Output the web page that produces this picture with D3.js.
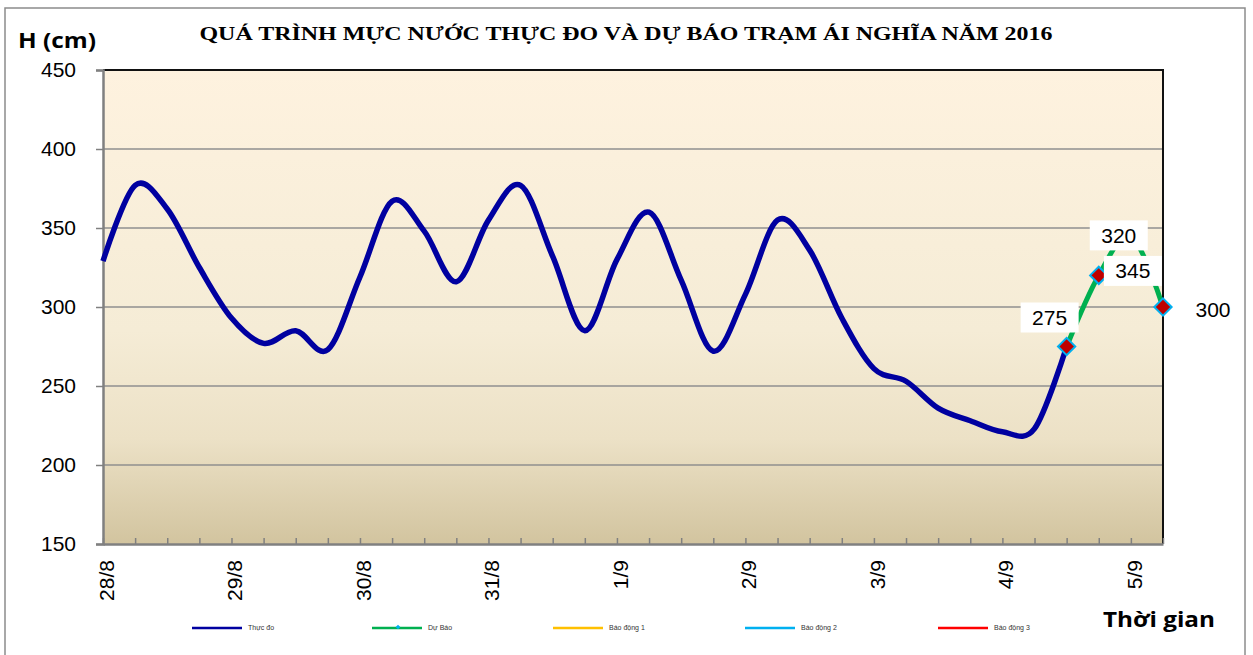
<!DOCTYPE html>
<html><head><meta charset="utf-8">
<script src="https://cdnjs.cloudflare.com/ajax/libs/d3/7.8.5/d3.min.js"></script>
<style>html,body{margin:0;padding:0;background:#fff;}svg{display:block;}</style>
</head><body>
<script>
// ---- data ----
const categories = ["28/8","","","","29/8","","","","30/8","","","","31/8","","","","1/9","","","","2/9","","","","3/9","","","","4/9","","","","5/9",""];
const measured = [329,377,362,325,293,277,285,273,319,367,348,316,355,377,332,285,330,360,317,272,308,355,336,293,261,253,236,228,221,223,275];
const forecastIdx = [30,31,32,33];
const forecast = [275,320,345,300];
const forecastLabels = ["275","320","345","300"];
const yTicks = [150,200,250,300,350,400,450];
const legendNames = ["Thực đo","Dự Báo","Báo động 1","Báo động 2","Báo động 3"];
const titleText = "QUÁ TRÌNH MỰC NƯỚC THỰC ĐO VÀ DỰ BÁO TRẠM ÁI NGHĨA NĂM 2016";

// ---- styles / layout ----
const W = 1253, H = 655;
const plot = {l:103, r:1163, t:70, b:544};
const labelOffsets = [[-17,-29],[20,-40],[2,35],[50,2]];
const legendColors = ["#0000A0","#00B050","#FFC000","#00B0F0","#FF0000"];
const legendX = [192,372,553,745,938];

const svg = d3.select("body").append("svg").attr("width",W).attr("height",H);
const defs = svg.append("defs");
const grad = defs.append("linearGradient").attr("id","bg").attr("x1",0).attr("y1",0).attr("x2",0).attr("y2",1);
[[0,"#FEF2DF"],[0.55,"#F5ECD6"],[0.78,"#ECE1C6"],[1,"#D2C49F"]].forEach(s=>grad.append("stop").attr("offset",s[0]).attr("stop-color",s[1]));

// outer border
svg.append("rect").attr("x",5).attr("y",8).attr("width",1240).attr("height",660).attr("fill","none").attr("stroke","#8c8c8c").attr("stroke-width",1.5);

const x = d3.scaleLinear().domain([0,categories.length-1]).range([plot.l,plot.r]);
const y = d3.scaleLinear().domain([150,450]).range([plot.b,plot.t]);

// plot background
svg.append("rect").attr("x",plot.l).attr("y",plot.t).attr("width",plot.r-plot.l).attr("height",plot.b-plot.t).attr("fill","url(#bg)");

// gridlines
svg.append("g").selectAll("line").data(yTicks.filter(v=>v>150&&v<450)).join("line")
  .attr("x1",plot.l).attr("x2",plot.r).attr("y1",d=>y(d)).attr("y2",d=>y(d))
  .attr("stroke","#8f8f8f").attr("stroke-width",1.5);

// top/right border
svg.append("path").attr("d",`M${plot.l},${plot.t}H${plot.r}V${plot.b}`).attr("fill","none").attr("stroke","#111").attr("stroke-width",2);

// y axis
const yAxis = svg.append("g").attr("transform",`translate(${plot.l},0)`)
  .call(d3.axisLeft(y).tickValues(yTicks).tickSize(7).tickPadding(20));
yAxis.select(".domain").attr("stroke","#808080").attr("stroke-width",2.5);
yAxis.selectAll(".tick line").attr("stroke","#808080").attr("stroke-width",1.5);
yAxis.selectAll("text").attr("font-family","Liberation Sans, Arial, sans-serif").attr("font-size",21).attr("fill","#000");

// x axis
const xAxis = svg.append("g").attr("transform",`translate(0,${plot.b})`)
  .call(d3.axisBottom(x).tickValues(d3.range(categories.length)).tickSize(-6).tickSizeOuter(0).tickFormat(i=>categories[i]));
xAxis.select(".domain").attr("stroke","#808080").attr("stroke-width",2.5);
xAxis.selectAll(".tick line").attr("stroke","#808080").attr("stroke-width",1.5);
xAxis.selectAll("text").attr("font-family","Liberation Sans, Arial, sans-serif").attr("font-size",21).attr("fill","#000")
  .attr("transform","rotate(-90)").attr("text-anchor","end").attr("x",-16).attr("y",0).attr("dy","0.5em");

// lines
const curve = d3.curveCatmullRom.alpha(0);
const fData = forecastIdx.map((i,k)=>({i, v:forecast[k], lab:forecastLabels[k], off:labelOffsets[k]}));
svg.append("path").datum(fData)
  .attr("d",d3.line().x(d=>x(d.i)).y(d=>y(d.v)).curve(curve))
  .attr("fill","none").attr("stroke","#00B050").attr("stroke-width",5).attr("stroke-linejoin","round");
svg.append("path").datum(measured)
  .attr("d",d3.line().x((d,i)=>x(i)).y(d=>y(d)).curve(curve))
  .attr("fill","none").attr("stroke","#0000A0").attr("stroke-width",5.5).attr("stroke-linejoin","round");

// markers
const diamond = d3.symbol().type(d3.symbolDiamond2).size(190);
svg.append("g").selectAll("path").data(fData).join("path")
  .attr("d",diamond).attr("transform",d=>`translate(${x(d.i)},${y(d.v)})`)
  .attr("fill","#C00000").attr("stroke","#00B0F0").attr("stroke-width",2);

// data labels
const lg = svg.append("g").selectAll("g").data(fData).join("g")
  .attr("transform",d=>`translate(${x(d.i)+d.off[0]},${y(d.v)+d.off[1]})`);
lg.append("rect").attr("x",-29).attr("y",-15).attr("width",58).attr("height",30).attr("fill","#fff");
lg.append("text").text(d=>d.lab).attr("text-anchor","middle").attr("dy","0.36em")
  .attr("font-family","Liberation Sans, Arial, sans-serif").attr("font-size",21).attr("fill","#000");

// title
svg.append("text").attr("x",626).attr("y",40).attr("text-anchor","middle")
  .attr("font-family","Liberation Serif, Times New Roman, serif").attr("font-weight","bold").attr("font-size",18)
  .attr("textLength",853).attr("lengthAdjust","spacingAndGlyphs").text(titleText);

// axis titles
svg.append("text").attr("x",18).attr("y",48).attr("font-family","Open Sans, sans-serif").attr("font-weight","bold")
  .attr("font-size",22).attr("textLength",78).attr("lengthAdjust","spacingAndGlyphs").text("H (cm)");
svg.append("text").attr("x",1103).attr("y",627).attr("font-family","Open Sans, sans-serif").attr("font-weight","bold")
  .attr("font-size",22).attr("textLength",112).attr("lengthAdjust","spacingAndGlyphs").text("Thời gian");

// legend
const leg = svg.append("g").selectAll("g").data(legendNames).join("g")
  .attr("transform",(d,i)=>`translate(${legendX[i]},628)`);
leg.append("line").attr("x1",0).attr("x2",50).attr("stroke",(d,i)=>legendColors[i]).attr("stroke-width",2.5);
leg.filter((d,i)=>i===1).append("path").attr("d",d3.symbol().type(d3.symbolDiamond2).size(14)).attr("transform","translate(26,-1)").attr("fill","#00B0F0");
leg.append("text").attr("x",56).attr("dy","0.35em").attr("font-family","Liberation Sans, Arial, sans-serif").attr("font-size",7).attr("fill","#333").text(d=>d);
</script>
</body></html>
